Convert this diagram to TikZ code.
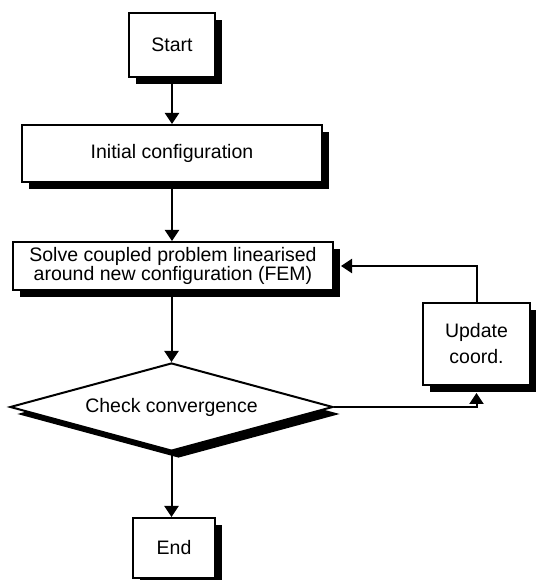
\documentclass[tikz,border=0pt]{standalone}
\usepackage{fontspec}
\setmainfont{Liberation Sans}
\usepackage{tikz}
\usetikzlibrary{arrows.meta,calc,shapes.geometric,shadows}

\begin{document}
\begin{tikzpicture}[x=1pt, y=1pt,
		font=\fontsize{19.5}{22}\selectfont,
		shade/.style={drop shadow={shadow xshift=7pt, shadow yshift=-7pt, fill=black, opacity=1}},
		box/.style={draw, line width=2pt, fill=white, inner sep=0pt, align=center, shade},
		decision/.style={draw, diamond, aspect=3.7, line width=2pt, fill=white, inner sep=0pt, shade},
		arr/.style={line width=2pt, -{Triangle[length=11pt, width=14pt]}}]
		\useasboundingbox (0,0) rectangle (535,580);
		
		% the boxes
		\node[box, minimum width=86, minimum height=64] (start) at (172,535) {Start};
		\node[box, minimum width=300, minimum height=57] (init) at (172,426.5) {Initial configuration};
		\node[box, minimum width=320, minimum height=48, font=\fontsize{19.5}{18}\selectfont] (solve) at (173,314) {Solve coupled problem linearised\\around new configuration (FEM)};
		\node[decision, minimum width=323, minimum height=88] (check) at (171.5,173) {Check convergence};
		\node[box, minimum width=107, minimum height=82, font=\fontsize{19.5}{26}\selectfont] (upd) at (476.5,236) {Update\\coord.};
		\node[box, minimum width=82, minimum height=60] (end) at (174,32) {End};
		
		% draw the arrows
		\draw[arr] (start.south -| init.north) -- (init.north);
		\draw[arr] (init.south) -- (init.south |- solve.north);
		\draw[arr] (solve.south -| check.north) -- (check.north);
		\draw[arr] (check.south) -- (check.south |- end.north);
		
		% the loop back
		\draw[arr] (check.east) -| ($(upd.south)+(0,-7)$);
		\draw[arr] (upd.north) |- ($(solve.east)+(7,0)$);
	\end{tikzpicture}
\end{document}
